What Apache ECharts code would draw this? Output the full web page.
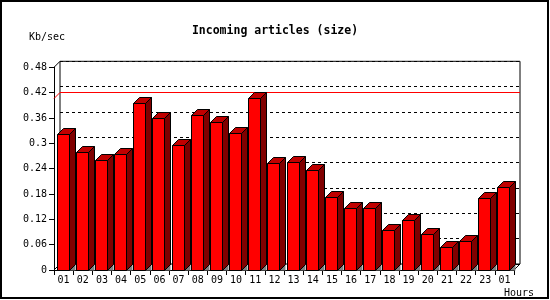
<!DOCTYPE html>
<html>
<head>
<meta charset="utf-8">
<script src="https://cdn.jsdelivr.net/npm/echarts@6/dist/echarts.min.js"></script>
<style>html,body{margin:0;padding:0;background:#fff;}#c{width:550px;height:300px;}</style>
</head>
<body>
<div id="c"></div>
<script>
var categories = ['01','02','03','04','05','06','07','08','09','10','11','12','13','14','15','16','17','18','19','20','21','22','23','01'];
var values = [0.322,0.279,0.260,0.275,0.395,0.359,0.296,0.366,0.350,0.324,0.407,0.253,0.256,0.236,0.172,0.146,0.146,0.095,0.118,0.085,0.054,0.068,0.170,0.196];
var yTicks = {min: 0, max: 0.48, interval: 0.06};
var titleText = 'Incoming articles (size)';
var yName = 'Kb/sec';
var xName = 'Hours';

var maxValue = Math.max.apply(null, values);
var D = 6; // 3D depth in px
var FONT = 'DejaVu Sans Mono';

var chart = echarts.init(document.getElementById('c'), null, {renderer: 'canvas'});

function renderBar(params, api) {
  var i = api.value(0), v = api.value(1);
  var cs = params.coordSys;
  var bw = cs.width / categories.length;
  var top = api.coord([i, v]);
  var bot = api.coord([i, 0]);
  var x0 = Math.round(cs.x + i * bw + 2.6) + 0.5;
  var x1 = x0 + 12;
  var yt = Math.round(top[1]) + 0.5;
  var yb = Math.round(bot[1]) + 0.5;
  var stroke = {stroke: '#000', lineWidth: 1};
  return {
    type: 'group',
    children: [
      {type: 'polygon', shape: {points: [[x1, yb], [x1 + D, yb - D], [x1 + D, yb]]}, style: {fill: '#808080'}},
      {type: 'polygon', shape: {points: [[x1, yt], [x1 + D, yt - D], [x1 + D, yb - D], [x1, yb]]}, style: Object.assign({fill: '#800000'}, stroke)},
      {type: 'polygon', shape: {points: [[x0, yt], [x0 + D, yt - D], [x1 + D, yt - D], [x1, yt]]}, style: Object.assign({fill: '#C00000'}, stroke)},
      {type: 'rect', shape: {x: x0, y: yt, width: x1 - x0, height: yb - yt}, style: Object.assign({fill: '#FF0000'}, stroke)}
    ]
  };
}

function renderMax(params, api) {
  if (params.dataIndex !== 0) return null;
  var cs = params.coordSys;
  var y = Math.round(api.coord([0, api.value(1)])[1]) + 0.5;
  var l = cs.x, r = cs.x + cs.width;
  return {
    type: 'polyline',
    shape: {points: [[l, y], [l + D, y - D], [r + D, y - D]]},
    style: {stroke: '#FF0000', lineWidth: 1, fill: null}
  };
}

function renderFrame(params, api) {
  if (params.dataIndex !== 0) return null;
  var cs = params.coordSys;
  var l = cs.x, r = cs.x + cs.width, t = cs.y, b = cs.y + cs.height;
  var s = {stroke: '#000', lineWidth: 1};
  return {
    type: 'group',
    children: [
      {type: 'line', shape: {x1: l, y1: t, x2: l + D, y2: t - D}, style: s},
      {type: 'line', shape: {x1: l, y1: b, x2: l + D, y2: b - D}, style: s},
      {type: 'line', shape: {x1: r, y1: b, x2: r + D, y2: b - D}, style: s}
    ]
  };
}

var option = {
  animation: false,
  backgroundColor: '#fff',
  title: {
    text: titleText, left: 'center', top: 20,
    textStyle: {fontFamily: FONT, fontSize: 11.5, fontWeight: 'bold', color: '#000'}
  },
  grid: [
    {left: 60, right: 30, top: 61.3, bottom: 36, show: true, borderColor: '#000', borderWidth: 1, backgroundColor: 'transparent'},
    {left: 54, right: 36, top: 67.3, bottom: 30}
  ],
  xAxis: [
    {gridIndex: 0, type: 'category', data: categories, show: false},
    {gridIndex: 1, type: 'category', data: categories,
     axisLine: {lineStyle: {color: '#000', width: 1}},
     axisTick: {show: true, length: 5, lineStyle: {color: '#000'}},
     axisLabel: {color: '#000', fontFamily: FONT, fontSize: 10, margin: 5, interval: 0}
    }
  ],
  yAxis: [
    {gridIndex: 0, type: 'value', min: yTicks.min, max: yTicks.max, interval: yTicks.interval,
     axisLine: {show: false}, axisTick: {show: false}, axisLabel: {show: false},
     splitLine: {show: true, lineStyle: {color: '#000', type: [3, 3], width: 1}}
    },
    {gridIndex: 1, type: 'value', min: yTicks.min, max: yTicks.max, interval: yTicks.interval,
     axisLine: {show: true, lineStyle: {color: '#000', width: 1}},
     axisTick: {show: true, length: 5, lineStyle: {color: '#000'}},
     axisLabel: {color: '#000', fontFamily: FONT, fontSize: 10, margin: 7},
     splitLine: {show: false}
    }
  ],
  graphic: [
    {type: 'rect', shape: {x: 1, y: 1, width: 547, height: 297}, style: {fill: null, stroke: '#000', lineWidth: 2}, z: 100},
    {type: 'text', x: 29, y: 37, style: {text: yName, fontFamily: FONT, fontSize: 10, fill: '#000', textVerticalAlign: 'middle'}},
    {type: 'text', x: 504, y: 293, style: {text: xName, fontFamily: FONT, fontSize: 10, fill: '#000', textVerticalAlign: 'middle'}}
  ],
  series: [
    {type: 'custom', xAxisIndex: 1, yAxisIndex: 1, renderItem: renderFrame, data: [[0, 0]], z: 1, silent: true},
    {type: 'custom', xAxisIndex: 1, yAxisIndex: 1, renderItem: renderMax, data: [[0, maxValue]], z: 2, silent: true},
    {type: 'custom', xAxisIndex: 1, yAxisIndex: 1, renderItem: renderBar, data: values.map(function (v, i) { return [i, v]; }), z: 3, clip: false}
  ]
};
chart.setOption(option);
</script>
</body>
</html>
